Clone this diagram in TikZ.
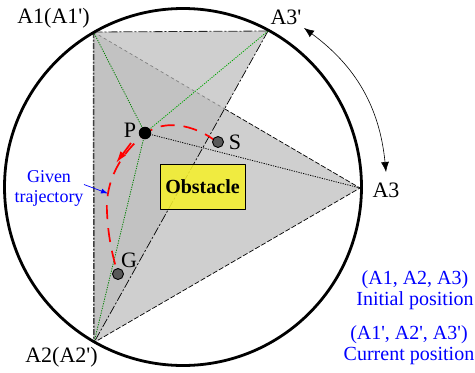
\documentclass[tikz,border=0pt]{standalone}
\usepackage{fontspec}
\setmainfont{Liberation Serif}[Ligatures=TeXOff]
\usetikzlibrary{arrows.meta}
\definecolor{obstfill}{RGB}{245,240,45}
\tikzset{
	lbl/.style={inner sep=0pt,font=\fontsize{22}{24}\selectfont},
	bluelbl/.style={inner sep=0pt,align=center,text=blue,font=\fontsize{20}{21}\selectfont},
	waypt/.style={circle,draw=black,fill=black!65,line width=0.9pt,minimum size=11pt,inner sep=0pt},
	ray/.style={dash pattern=on 1.2pt off 1.2pt,line width=0.8pt,color=green!50!black}
}
\begin{document}
\begin{tikzpicture}[x=1pt,y=-1pt,line join=round,>={Latex[length=10pt,width=8pt]}]
	\useasboundingbox (0,0) rectangle (475,373);
	\coordinate (A1) at (93.5,32);
	\coordinate (A2) at (94,342.5);
	\coordinate (A3) at (360,188);
	\coordinate (A3p) at (268,31);
	\coordinate (Cnt) at (183,187);
	\coordinate (P) at (145,133);
	\coordinate (X) at (224.6,108.8);
	\fill[black!19] (A1)--(A2)--(A3)--cycle;
	\fill[black!19] (A1)--(A2)--(A3p)--cycle;
	\fill[black!24] (A1)--(A2)--(X)--cycle;
	\draw[black!50,dashed,line width=0.7pt] (A1)--(X);
	\draw[dash pattern=on 5pt off 2pt,line width=0.7pt] (X)--(A3)--(A2);
	\draw[black!85,dash pattern=on 9pt off 2pt on 2pt off 2pt,line width=0.8pt] (A1)--(A3p);
	\draw[dash pattern=on 9pt off 2pt on 2pt off 2pt,line width=0.7pt] (A3p)--(A2);
	\draw[black!75,dash pattern=on 6pt off 1.5pt on 2pt off 1.5pt,line width=1.5pt] (A1)--(A2);
	\draw[ray] (P)--(A1);
	\draw[ray] (P)--(A2);
	\draw[ray,color=green!65!black] (P)--(A3p);
	\draw[dash pattern=on 1.2pt off 1.2pt,line width=0.8pt] (P)--(A3);
	\node[draw=black,fill=obstfill,fill opacity=0.88,text opacity=1,minimum width=85pt,minimum height=45pt,inner sep=0pt,line width=0.8pt,font=\fontsize{20}{22}\selectfont\bfseries] (obst) at (202.5,186.5) {Obstacle};
	\draw[line width=2.8pt] (Cnt) circle (178.5);
	\draw[red,line width=1.7pt,dash pattern=on 14pt off 9pt,dash phase=4pt] (213.5,139.5) .. controls (195,126) and (165,118) .. (145,134) .. controls (122,152) and (105,180) .. (107,212) .. controls (108,235) and (112,255) .. (118,274);
	\draw[red,line width=1.7pt,->,>={Latex[length=12pt,width=7pt]}] (131,143)--(116,163);
	\node[waypt] (S) at (218,142) {};
	\node[waypt] (G) at (118,274) {};
	\node[circle,fill=black,minimum size=12.5pt,inner sep=0pt] (Pt) at (P) {};
	\draw[<->,line width=0.6pt] (386,172) to[bend right=24] (304,28);
	\coordinate (trj) at (108,193.5);
	\node[bluelbl,font=\fontsize{18}{20}\selectfont] (given) at (49,188) {Given\\trajectory};
	\draw[->,blue,line width=0.7pt,>={Latex[length=7pt,width=5pt]}] (84,184.5)--(trj);
	\node[lbl] (la1) at (53.5,18) {A1(A1')};
	\node[lbl] (la2) at (61.5,357) {A2(A2')};
	\node[lbl] (la3) at (386,190) {A3};
	\node[lbl] (la3p) at (286,17) {A3'};
	\node[lbl] (lp) at (130,130) {P};
	\node[lbl] (ls) at (235,142) {S};
	\node[lbl] (lg) at (129,260) {G};
	\node[bluelbl] (init) at (415,290) {(A1, A2, A3)\\Initial position};
	\node[bluelbl] (curr) at (409,345) {(A1', A2', A3')\\Current position};
\end{tikzpicture}
\end{document}
